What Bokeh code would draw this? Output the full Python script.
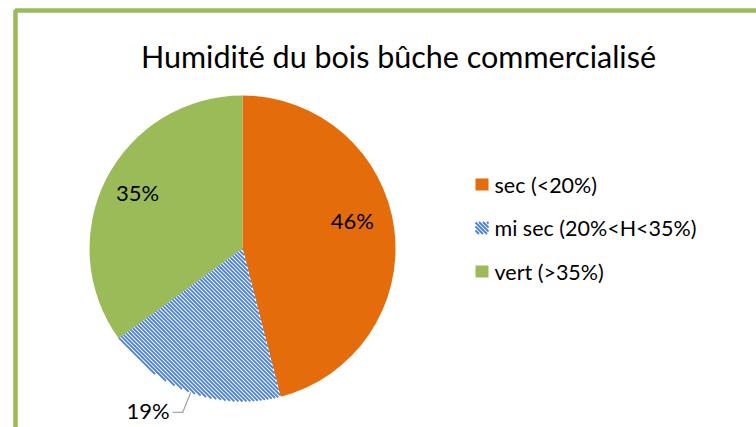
import math
from bokeh.plotting import figure
from bokeh.models import Range1d, ColumnDataSource
from bokeh.core.properties import value
from bokeh.embed import file_html
from bokeh.resources import INLINE

# ---- data ----
categories = ["sec (<20%)", "mi sec (20%<H<35%)", "vert (>35%)"]
shares = [46, 19, 35]
labels = ["46%", "19%", "35%"]
title = "Humidité du bois bûche commercialisé"

# ---- style ----
fill_colors = ["#E46C0A", "#FFFFFF", "#9BBB59"]
striped = [False, True, False]
stripe_color = "#4A80D6"
STRIPE_STEP = 4.0     # horizontal period of the "\" stripes, px
STRIPE_W = 1.8
FONT = "Lato"

W, H = 756, 427
p = figure(width=W, height=H, output_backend="svg", toolbar_location=None,
           x_range=Range1d(0, W), y_range=Range1d(0, H), min_border=0)
p.axis.visible = False
p.grid.visible = False
p.outline_line_color = None
p.background_fill_color = "white"
p.border_fill_color = "white"

def Y(sy):
    return H - sy

# --- helpers: clip "\" stripes (x + y = c in data space) to a convex region
D = (1 / math.sqrt(2), -1 / math.sqrt(2))

def clip_line(c, planes, disc=None):
    qx, qy = c / 2.0, c / 2.0
    lo, hi = -1e9, 1e9
    for nx, ny, k in planes:
        a = nx * qx + ny * qy + k
        b = nx * D[0] + ny * D[1]
        if abs(b) < 1e-12:
            if a < 0:
                return None
            continue
        t = -a / b
        if b > 0:
            lo = max(lo, t)
        else:
            hi = min(hi, t)
    if disc is not None:
        ccx, ccy, rr = disc
        wx, wy = qx - ccx, qy - ccy
        bb = D[0] * wx + D[1] * wy
        cc = wx * wx + wy * wy - rr * rr
        disc_v = bb * bb - cc
        if disc_v <= 0:
            return None
        sq = math.sqrt(disc_v)
        lo, hi = max(lo, -bb - sq), min(hi, -bb + sq)
    if hi <= lo:
        return None
    return ([qx + lo * D[0], qx + hi * D[0]], [qy + lo * D[1], qy + hi * D[1]])

def stripes(planes, cmin, cmax, disc=None):
    xs, ys = [], []
    c = math.floor(cmin / STRIPE_STEP) * STRIPE_STEP
    while c <= cmax:
        seg = clip_line(c, planes, disc)
        if seg:
            xs.append(seg[0]); ys.append(seg[1])
        c += STRIPE_STEP
    return xs, ys

# chart frame (green border)
p.quad(left=[15], right=[900], top=[Y(10)], bottom=[-200],
       fill_color=None, line_color="#9BBB59", line_width=4.5)

# title
p.text(x=[398], y=[Y(55)], text=[title], text_font=value(FONT),
       text_font_size="30.5px", text_color="#000000",
       text_align="center", text_baseline="middle")

# pie
cx, cy, r = 242, Y(248), 153
total = float(sum(shares))
starts, ends, mids = [], [], []
cum = 0.0
for s in shares:
    a0 = math.pi / 2 - 2 * math.pi * cum / total
    cum += s
    a1 = math.pi / 2 - 2 * math.pi * cum / total
    starts.append(a0); ends.append(a1); mids.append((a0 + a1) / 2)

src = ColumnDataSource(dict(start=starts, end=ends, fill=fill_colors,
                            cat=categories))
p.wedge(x=cx, y=cy, radius=r, start_angle="start", end_angle="end",
        direction="clock", source=src, fill_color="fill", line_color=None)

# stripes for the patterned slice(s)
for i, st in enumerate(striped):
    if not st:
        continue
    a0, a1 = starts[i], ends[i]
    u0 = (math.cos(a0), math.sin(a0))
    u1 = (math.cos(a1), math.sin(a1))
    planes = [(-u1[1], u1[0], u1[1] * cx - u1[0] * cy),
              (u0[1], -u0[0], -u0[1] * cx + u0[0] * cy)]
    xs, ys = stripes(planes, cx + cy - 2 * r, cx + cy + 2 * r, disc=(cx, cy, r))
    p.multi_line(xs=xs, ys=ys, line_color=stripe_color, line_width=STRIPE_W)

# data labels
inside_frac = [0.75, None, 0.77]
nudge = [(-4, 14), (0, 0), (0, 3)]
for i, lab in enumerate(labels):
    if inside_frac[i] is not None:
        lx = cx + inside_frac[i] * r * math.cos(mids[i]) + nudge[i][0]
        ly = cy + inside_frac[i] * r * math.sin(mids[i]) + nudge[i][1]
        p.text(x=[lx], y=[ly], text=[lab], text_font=value(FONT),
               text_font_size="22px", text_color="#000000",
               text_align="center", text_baseline="middle")
    else:
        ex = cx + r * math.cos(mids[i])
        ey = cy + r * math.sin(mids[i])
        lx, ly = ex - 8, ey - 20
        p.line(x=[ex, lx, lx - 10], y=[ey, ly, ly], line_color="#A6A6A6",
               line_width=1.3)
        p.text(x=[lx - 13], y=[ly + 2], text=[lab], text_font=value(FONT),
               text_font_size="22px", text_color="#000000",
               text_align="right", text_baseline="middle")

# legend
LX, LW, LH = 481.5, 13, 12
leg_y = [Y(184 + 43.5 * i) for i in range(len(categories))]
leg_src = ColumnDataSource(dict(x=[LX] * 3, y=leg_y, fill=fill_colors,
                                cat=categories, tx=[494] * 3))
p.rect(x="x", y="y", width=LW, height=LH, source=leg_src, fill_color="fill",
       line_color=None)
for i, st in enumerate(striped):
    if not st:
        continue
    L, R = LX - LW / 2, LX + LW / 2
    B, T = leg_y[i] - LH / 2, leg_y[i] + LH / 2
    planes = [(1, 0, -L), (-1, 0, R), (0, 1, -B), (0, -1, T)]
    xs, ys = stripes(planes, L + B, R + T)
    p.multi_line(xs=xs, ys=ys, line_color=stripe_color, line_width=STRIPE_W)
p.text(x="tx", y="y", text="cat", source=leg_src, text_font=value(FONT),
       text_font_size="21.5px", text_color="#000000", text_align="left",
       text_baseline="middle")

open("out.html", "w").write(file_html(p, INLINE))
